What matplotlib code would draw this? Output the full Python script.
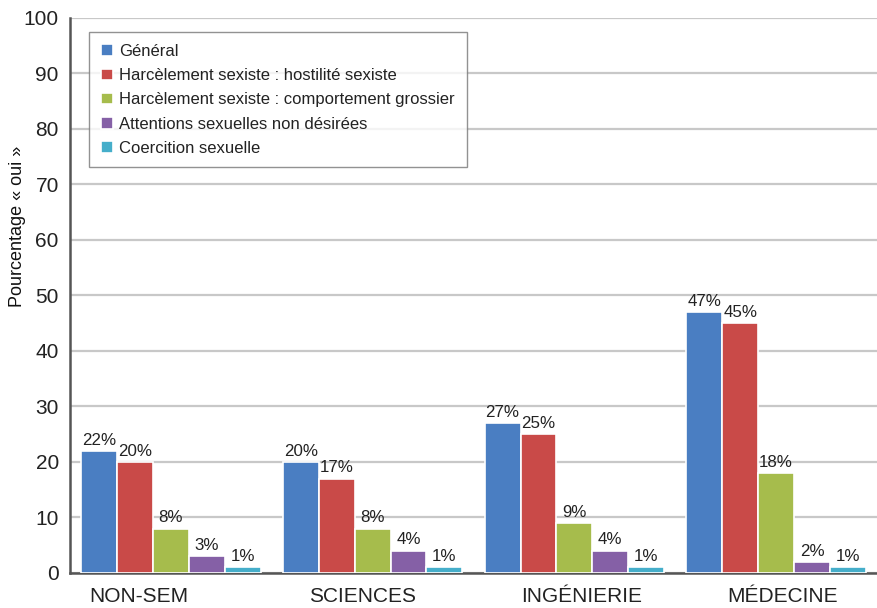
import matplotlib
matplotlib.use("Agg")
import matplotlib.pyplot as plt
import numpy as np

plt.rcParams["font.family"] = ["Liberation Sans", "DejaVu Sans"]

categories = ["NON-SEM", "SCIENCES", "INGÉNIERIE", "MÉDECINE"]
series_names = [
    "Général",
    "Harcèlement sexiste : hostilité sexiste",
    "Harcèlement sexiste : comportement grossier",
    "Attentions sexuelles non désirées",
    "Coercition sexuelle",
]
general = [22, 20, 27, 47]
hostilite = [20, 17, 25, 45]
grossier = [8, 8, 9, 18]
attentions = [3, 4, 4, 2]
coercition = [1, 1, 1, 1]
series_values = [general, hostilite, grossier, attentions, coercition]
colors = ["#4A7EC2", "#C94A48", "#A6BC4C", "#8560A6", "#45AECA"]
y_ticks = [0, 10, 20, 30, 40, 50, 60, 70, 80, 90, 100]

fig = plt.figure(figsize=(8.77, 6.08), dpi=100)
ax = fig.add_axes([0.0798, 0.0576, 0.9202, 0.9128])

x = np.arange(len(categories))
width = 0.178
offsets = (np.arange(len(series_names)) - 2) * width

for vals, name, col, off in zip(series_values, series_names, colors, offsets):
    bars = ax.bar(x + off, vals, width, color=col, edgecolor="white",
                  linewidth=1.2, label=name, zorder=3)
    for b, v in zip(bars, vals):
        ax.text(b.get_x() + b.get_width() / 2, v + 0.6, f"{v}%",
                ha="center", va="bottom", fontsize=12.2, color="#222222",
                zorder=4)

ax.set_xlim(-0.5, 3.5)
ax.set_ylim(0, 100)
ax.set_yticks(y_ticks)
ax.set_yticklabels([str(t) for t in y_ticks], fontsize=15, color="#222222")
ax.yaxis.grid(True, color="#C8C8C8", linewidth=1.6, zorder=0)
ax.set_axisbelow(True)

# category labels sit slightly off the group centres
label_shift = [-0.16, -0.05, 0.035, 0.03]
ax.set_xticks(x + np.array(label_shift))
ax.set_xticklabels(categories, fontsize=15, color="#222222")
ax.tick_params(axis="x", length=0, pad=10)
ax.tick_params(axis="y", length=0, pad=8)

for side in ["top", "right"]:
    ax.spines[side].set_visible(False)
ax.spines["left"].set_color("#555555")
ax.spines["left"].set_linewidth(1.8)
ax.spines["bottom"].set_color("#555555")
ax.spines["bottom"].set_linewidth(1.8)

ax.set_ylabel("Pourcentage « oui »", fontsize=13, color="#111111")
ax.yaxis.set_label_coords(-0.055, 0.625)

leg = ax.legend(loc="upper left", bbox_to_anchor=(0.02, 0.98), fontsize=12,
                frameon=True, fancybox=False, handlelength=0.7,
                handleheight=0.7, handletextpad=0.4, labelspacing=0.55,
                borderpad=0.7, borderaxespad=0.2)
leg.get_frame().set_edgecolor("#777777")
leg.get_frame().set_linewidth(1.0)
for t in leg.get_texts():
    t.set_color("#222222")

fig.savefig("out.png", dpi=100)
